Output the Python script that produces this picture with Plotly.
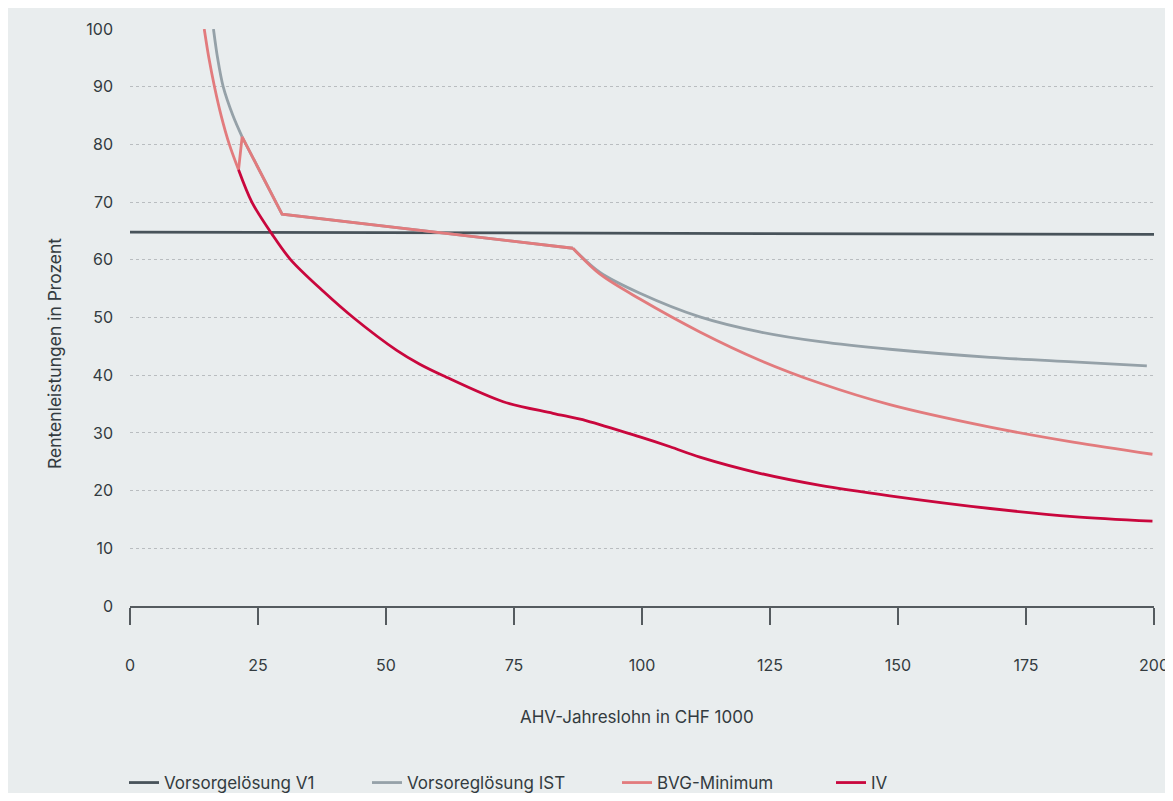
import plotly.graph_objects as go

# ---- data ----
v1_x = [0, 50, 100, 150, 200]
v1_y = [64.8, 64.7, 64.6, 64.5, 64.4]

ist_x = [16.3, 17.1, 18.2, 20.1, 21.9, 29.7, 86.5, 91.8, 99.6, 111.3, 123.0, 134.8, 148.4, 168.0, 184.2, 198.6]
ist_y = [100.0, 95.0, 90.0, 85.0, 81.3, 67.9, 62.0, 57.8, 54.2, 50.1, 47.5, 45.8, 44.5, 43.1, 42.3, 41.6]

bvg_x = [14.5, 15.4, 16.5, 17.8, 19.4, 21.2, 21.9, 29.7, 86.5, 91.8, 99.6, 111.3, 123.0, 134.8, 148.4, 168.0, 184.2, 199.7]
bvg_y = [100.0, 95.0, 90.0, 85.0, 80.0, 75.6, 81.3, 67.9, 62.0, 57.5, 53.2, 47.5, 42.6, 38.6, 34.9, 31.0, 28.4, 26.3]

iv_x = [21.2, 23.8, 27.7, 31.4, 37.8, 43.6, 52.1, 56.6, 61.2, 72.9, 82.6, 89.2, 99.6, 105.5, 111.3, 123.0, 134.8, 148.4, 168.0, 184.2, 199.7]
iv_y = [75.6, 70.0, 64.5, 60.0, 54.5, 50.0, 44.3, 41.9, 39.9, 35.4, 33.4, 32.1, 29.3, 27.6, 25.8, 23.0, 20.9, 19.1, 16.9, 15.5, 14.7]

# where each series changes between curved and straight pieces (indices into the arrays)
ist_breaks = [4, 6]   # curve up to peak, straight to second knee, curve after
bvg_breaks = [5, 8]   # curve down to dip, straight (dip-peak-knees), curve after

names = ["Vorsorgelösung V1", "Vorsoreglösung IST", "BVG-Minimum", "IV"]
colors = ["#48535a", "#95a1a8", "#e27b7d", "#c9073d"]

x_ticks = [0, 25, 50, 75, 100, 125, 150, 175, 200]
y_ticks = [0, 10, 20, 30, 40, 50, 60, 70, 80, 90, 100]

x_title = "AHV-Jahreslohn in CHF 1000"
y_title = "Rentenleistungen in Prozent"

# ---- layout constants ----
OFF = 8                # browser body margin
W, H = 1165, 785
L, R, T, B = 122, 19, 21, 187
PW = W - L - R
PH = H - T - B
FONT = "Inter, Roboto, sans-serif"
BG = "#e9edee"
TXT = "#333b40"
LW = 2.8


def px_x(p):
    return (p - OFF - L) / PW


def px_y(p):
    return (H - B - (p - OFF)) / PH


fig = go.Figure()


def add_pieces(xs, ys, breaks, name, col, lg):
    idx = [0] + breaks + [len(xs) - 1]
    shapes = ["spline", "linear", "spline"]
    for k in range(len(idx) - 1):
        a, b = idx[k], idx[k + 1]
        fig.add_trace(go.Scatter(
            x=xs[a:b + 1], y=ys[a:b + 1], mode="lines", name=name,
            line=dict(color=col, width=LW, shape=shapes[k],
                      smoothing=0.9 if shapes[k] == "spline" else None),
            legendgroup=name, showlegend=(k == 0), legend=lg, hoverinfo="skip",
        ))


fig.add_trace(go.Scatter(x=v1_x, y=v1_y, mode="lines", name=names[0],
                         line=dict(color=colors[0], width=LW),
                         legend="legend", hoverinfo="skip"))
add_pieces(ist_x, ist_y, ist_breaks, names[1], colors[1], "legend2")
add_pieces(bvg_x, bvg_y, bvg_breaks, names[2], colors[2], "legend3")
fig.add_trace(go.Scatter(x=iv_x, y=iv_y, mode="lines", name=names[3],
                         line=dict(color=colors[3], width=LW, shape="spline", smoothing=0.9),
                         legend="legend4", hoverinfo="skip"))

legend_ids = ["legend", "legend2", "legend3", "legend4"]
legend_text_px = [165, 408, 658, 872]
leg_common = dict(orientation="h", yanchor="middle", xanchor="left",
                  font=dict(family=FONT, size=17, color=TXT),
                  bgcolor="rgba(0,0,0,0)", borderwidth=0, itemwidth=30)
legend_layout = {}
for lg, tx in zip(legend_ids, legend_text_px):
    legend_layout[lg] = dict(leg_common, x=px_x(tx - 41), y=px_y(783))

fig.update_layout(
    width=W, height=H,
    margin=dict(l=L, r=R, t=T, b=B, autoexpand=False),
    paper_bgcolor=BG, plot_bgcolor=BG,
    font=dict(family=FONT, size=16, color=TXT),
    showlegend=True,
    **legend_layout,
    xaxis=dict(
        range=[0, 200], tickvals=x_ticks, ticktext=[str(v) for v in x_ticks],
        showgrid=False, zeroline=False, automargin=False,
        showline=True, linecolor="#555b5f", linewidth=1.5,
        ticks="outside", ticklen=17, tickwidth=1.5, tickcolor="#555b5f",
        ticklabelstandoff=27,
        tickfont=dict(family=FONT, size=16, color=TXT),
        fixedrange=True,
    ),
    yaxis=dict(
        range=[0, 100], tickvals=y_ticks, ticktext=[str(v) for v in y_ticks],
        showgrid=True, gridcolor="#b9bdc0", gridwidth=1, griddash="dot",
        zeroline=False, showline=False, ticks="", automargin=False,
        ticklabelstandoff=16,
        tickfont=dict(family=FONT, size=16, color=TXT),
        fixedrange=True,
    ),
    annotations=[
        dict(text=x_title, xref="paper", yref="paper", x=px_x(637), y=px_y(717),
             xanchor="center", yanchor="middle", showarrow=False,
             font=dict(family=FONT, size=17, color=TXT)),
        dict(text=y_title, xref="paper", yref="paper", x=px_x(54), y=px_y(354),
             xanchor="center", yanchor="middle", showarrow=False, textangle=-90,
             font=dict(family=FONT, size=17.5, color=TXT)),
    ],
)

fig.write_html("out.html")
